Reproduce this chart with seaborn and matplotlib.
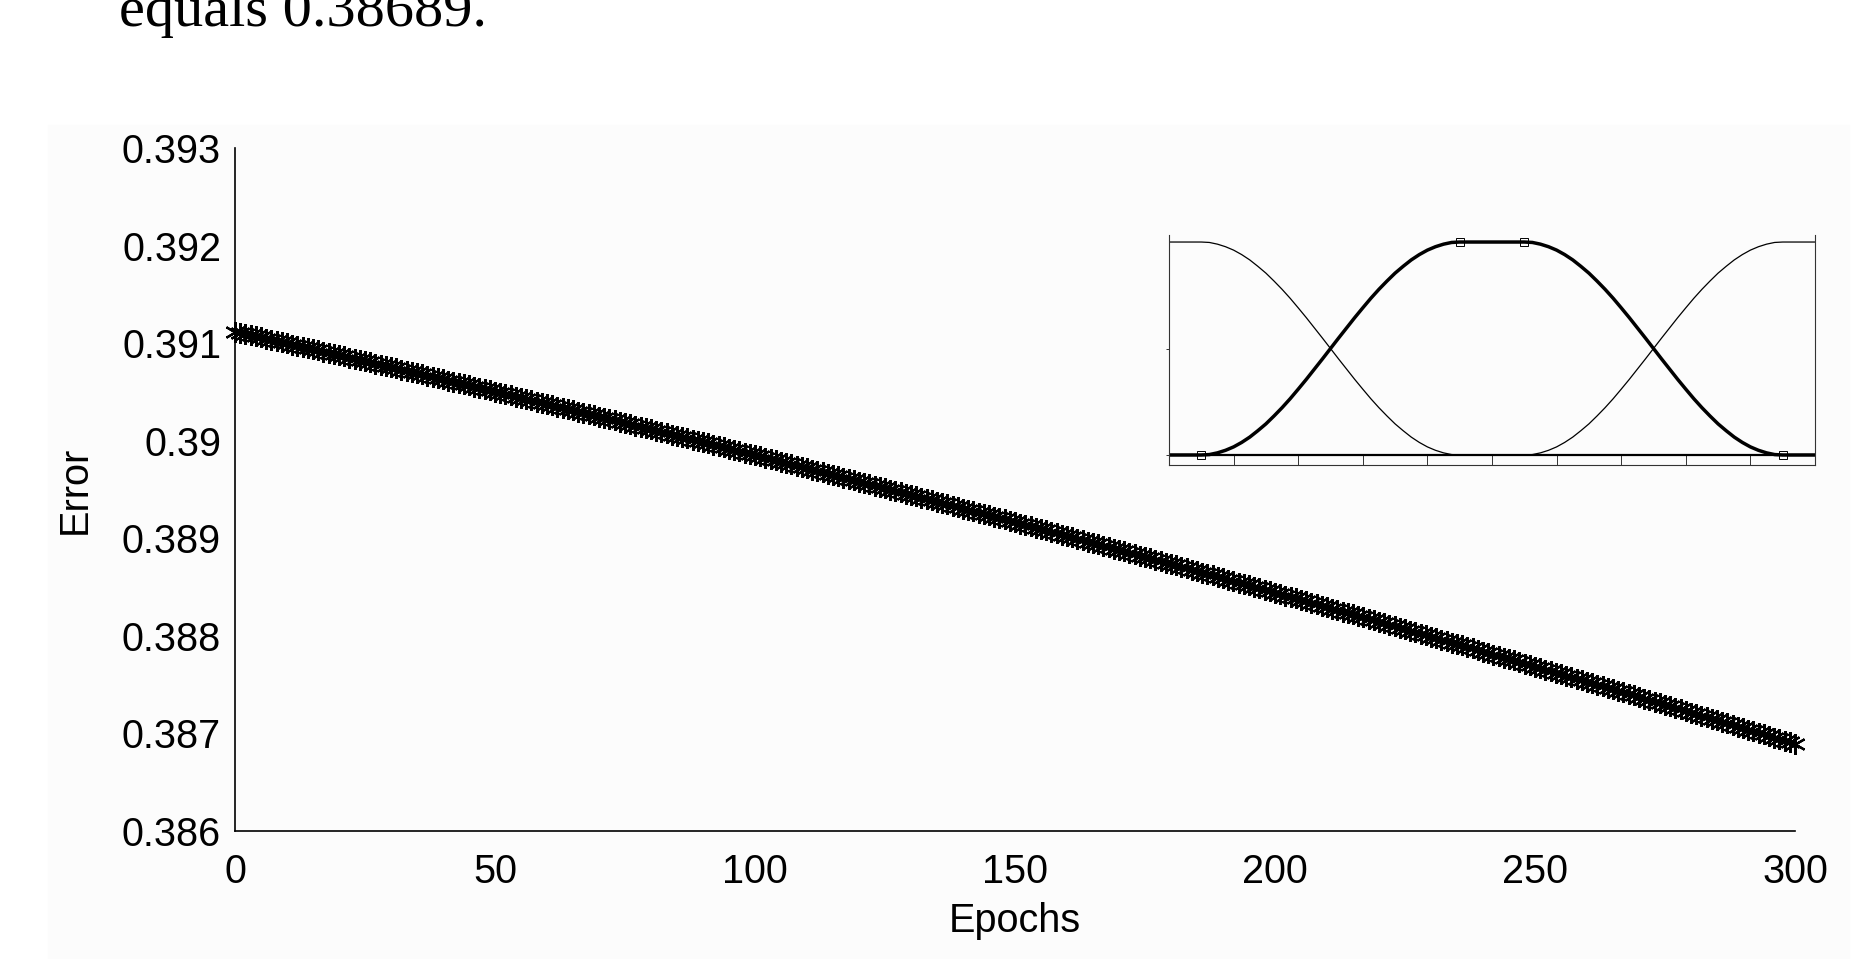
import numpy as np
import pandas as pd
import seaborn as sns
import matplotlib.pyplot as plt
from matplotlib.patches import Rectangle

# ---- main curve: training error per epoch ----
epochs = list(range(301))
errors = [
    0.391120, 0.391108, 0.391096, 0.391084, 0.391072, 0.391060, 0.391047, 0.391035, 0.391023, 0.391011,
    0.390999, 0.390987, 0.390975, 0.390963, 0.390951, 0.390939, 0.390926, 0.390914, 0.390902, 0.390890,
    0.390878, 0.390866, 0.390853, 0.390841, 0.390829, 0.390816, 0.390804, 0.390792, 0.390780, 0.390767,
    0.390755, 0.390743, 0.390730, 0.390718, 0.390705, 0.390693, 0.390680, 0.390668, 0.390655, 0.390643,
    0.390630, 0.390617, 0.390605, 0.390592, 0.390580, 0.390567, 0.390554, 0.390542, 0.390529, 0.390517,
    0.390504, 0.390491, 0.390478, 0.390466, 0.390453, 0.390440, 0.390427, 0.390414, 0.390402, 0.390389,
    0.390376, 0.390363, 0.390350, 0.390338, 0.390325, 0.390312, 0.390299, 0.390286, 0.390274, 0.390261,
    0.390248, 0.390235, 0.390222, 0.390209, 0.390196, 0.390183, 0.390169, 0.390156, 0.390143, 0.390130,
    0.390117, 0.390104, 0.390091, 0.390077, 0.390064, 0.390051, 0.390038, 0.390025, 0.390011, 0.389998,
    0.389985, 0.389972, 0.389958, 0.389945, 0.389932, 0.389918, 0.389905, 0.389892, 0.389879, 0.389865,
    0.389852, 0.389839, 0.389825, 0.389812, 0.389798, 0.389785, 0.389772, 0.389758, 0.389745, 0.389731,
    0.389718, 0.389704, 0.389691, 0.389677, 0.389664, 0.389650, 0.389636, 0.389623, 0.389609, 0.389596,
    0.389582, 0.389568, 0.389554, 0.389541, 0.389527, 0.389513, 0.389499, 0.389485, 0.389472, 0.389458,
    0.389444, 0.389430, 0.389416, 0.389402, 0.389388, 0.389375, 0.389361, 0.389347, 0.389333, 0.389319,
    0.389305, 0.389291, 0.389277, 0.389263, 0.389249, 0.389235, 0.389221, 0.389207, 0.389193, 0.389179,
    0.389165, 0.389151, 0.389137, 0.389122, 0.389108, 0.389094, 0.389080, 0.389066, 0.389051, 0.389037,
    0.389023, 0.389009, 0.388994, 0.388980, 0.388966, 0.388952, 0.388937, 0.388923, 0.388909, 0.388894,
    0.388880, 0.388866, 0.388851, 0.388837, 0.388822, 0.388808, 0.388794, 0.388779, 0.388765, 0.388750,
    0.388736, 0.388721, 0.388707, 0.388692, 0.388678, 0.388663, 0.388648, 0.388634, 0.388619, 0.388605,
    0.388590, 0.388575, 0.388560, 0.388546, 0.388531, 0.388516, 0.388501, 0.388486, 0.388472, 0.388457,
    0.388442, 0.388427, 0.388412, 0.388397, 0.388382, 0.388368, 0.388353, 0.388338, 0.388323, 0.388308,
    0.388293, 0.388278, 0.388263, 0.388248, 0.388233, 0.388218, 0.388203, 0.388188, 0.388173, 0.388158,
    0.388143, 0.388128, 0.388113, 0.388098, 0.388083, 0.388068, 0.388052, 0.388037, 0.388022, 0.388007,
    0.387992, 0.387977, 0.387961, 0.387946, 0.387930, 0.387915, 0.387900, 0.387884, 0.387869, 0.387853,
    0.387838, 0.387823, 0.387807, 0.387792, 0.387776, 0.387761, 0.387746, 0.387730, 0.387715, 0.387699,
    0.387684, 0.387668, 0.387653, 0.387637, 0.387622, 0.387606, 0.387590, 0.387575, 0.387559, 0.387544,
    0.387528, 0.387512, 0.387497, 0.387481, 0.387465, 0.387450, 0.387434, 0.387418, 0.387402, 0.387387,
    0.387371, 0.387355, 0.387339, 0.387323, 0.387307, 0.387292, 0.387276, 0.387260, 0.387244, 0.387228,
    0.387212, 0.387196, 0.387180, 0.387164, 0.387148, 0.387132, 0.387116, 0.387100, 0.387084, 0.387068,
    0.387052, 0.387036, 0.387020, 0.387003, 0.386987, 0.386971, 0.386955, 0.386939, 0.386922, 0.386906,
    0.386890,
]

x_ticks = [0, 50, 100, 150, 200, 250, 300]
y_ticks = [0.386, 0.387, 0.388, 0.389, 0.390, 0.391, 0.392, 0.393]
y_labels = ["0.386", "0.387", "0.388", "0.389", "0.39", "0.391", "0.392", "0.393"]

# ---- inset: membership functions, sampled every 0.0125 on [0, 1] ----
mf_x = np.linspace(0, 1, 81)
# shape of one flank (0 -> 1)
rise = [0.000, 0.002, 0.010, 0.022, 0.038, 0.059, 0.084, 0.114, 0.146, 0.183, 0.222,
        0.264, 0.309, 0.355, 0.403, 0.451, 0.500, 0.549, 0.597, 0.645, 0.691, 0.736,
        0.778, 0.817, 0.854, 0.886, 0.916, 0.941, 0.962, 0.978, 0.990, 0.998, 1.000]
fall = rise[::-1]
left_mu = [1] * 4 + fall + [0] * 44
mid_mu = [0] * 4 + rise + [1] * 7 + fall + [0] * 4
right_mu = [0] * 44 + rise + [1] * 4
zero_x = [0, 1]
zero_y = [0, 0]
knot_x = [0.05, 0.45, 0.55, 0.95]
knot_y = [0, 1, 1, 0]

sns.set_style("white")
plt.rcParams["font.family"] = ["Liberation Sans", "DejaVu Sans"]
plt.rcParams["text.color"] = "k"
plt.rcParams["axes.labelcolor"] = "k"
plt.rcParams["xtick.color"] = "k"
plt.rcParams["ytick.color"] = "k"

W, H = 1871, 959
fig = plt.figure(figsize=(W / 100, H / 100), dpi=100)
fig.patches.append(Rectangle((48 / W, 0), (1849 - 48) / W, 1 - 125 / H,
                             transform=fig.transFigure, color="#fcfcfc", zorder=-10))

# caption line of the page, cut off at the top as in the source
fig.text(119 / W, 1 - 26 / H, "equals 0.38689.", family=["Liberation Serif", "DejaVu Serif"],
         fontsize=42, va="baseline", ha="left")

ax = fig.add_axes([235 / W, 1 - 830.7 / H, 1560 / W, (830.7 - 148.3) / H])
ax.set_facecolor("none")
df = pd.DataFrame({"Epochs": epochs, "Error": errors})
sns.lineplot(data=df, x="Epochs", y="Error", ax=ax, color="k", lw=1,
             marker=(6, 2, 0), markersize=15, markeredgecolor="k", markeredgewidth=1.6,
             clip_on=False)
ax.set_xlim(0, 300)
ax.set_ylim(0.386, 0.393)
ax.set_xticks(x_ticks)
ax.set_yticks(y_ticks)
ax.set_yticklabels(y_labels)
ax.tick_params(axis="both", direction="in", length=11, width=1.1, labelsize=28.5, color="k")
ax.tick_params(axis="x", pad=16)
ax.tick_params(axis="y", pad=10)
for s in ["top", "right"]:
    ax.spines[s].set_visible(False)
for s in ["left", "bottom"]:
    ax.spines[s].set_color("k")
    ax.spines[s].set_linewidth(1.2)
ax.set_xlabel("Epochs", fontsize=28.5, labelpad=8)
ax.set_ylabel("Error", fontsize=28.5, labelpad=20)

# inset
ins = fig.add_axes([1169 / W, 1 - 465 / H, (1815 - 1169) / W, (465 - 235) / H])
ins.set_facecolor("none")
sns.lineplot(x=mf_x, y=left_mu, ax=ins, color="k", lw=0.9)
sns.lineplot(x=mf_x, y=right_mu, ax=ins, color="k", lw=0.9)
sns.lineplot(x=zero_x, y=zero_y, ax=ins, color="k", lw=1.6)
sns.lineplot(x=mf_x, y=mid_mu, ax=ins, color="k", lw=2.5)
ins.plot(knot_x, knot_y, ls="none", marker="s", markersize=5.5, mfc="none", mec="k", mew=0.7,
         clip_on=False)
ins.set_xlim(0, 1)
ins.set_ylim(-0.047, 1.033)
ins.set_xticks(np.arange(0.1, 0.95, 0.1))
ins.set_yticks([0, 0.5])
ins.set_xticklabels([])
ins.set_yticklabels([])
ins.tick_params(axis="x", direction="in", length=7, width=0.7, bottom=True, color="#333333")
ins.tick_params(axis="y", direction="out", length=2.5, width=0.7, left=True, color="#333333")
ins.spines["top"].set_visible(False)
for s in ["left", "right", "bottom"]:
    ins.spines[s].set_color("#333333")
    ins.spines[s].set_linewidth(0.8)
ins.set_xlabel("")
ins.set_ylabel("")

fig.savefig("out.png", dpi=100)
